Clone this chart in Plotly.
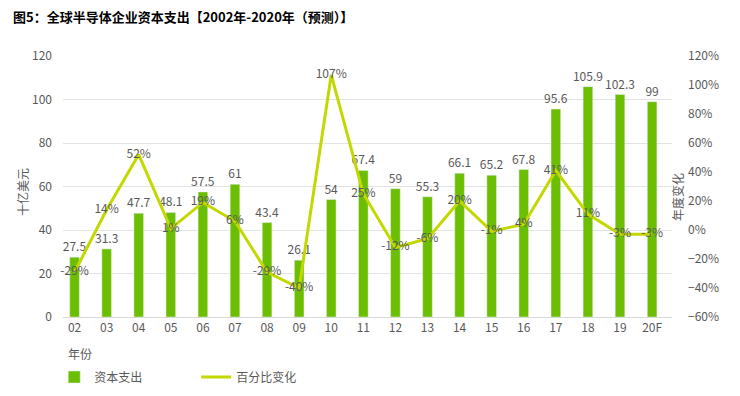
import plotly.graph_objects as go

years = ["02","03","04","05","06","07","08","09","10","11","12","13","14","15","16","17","18","19","20F"]
capex = [27.5,31.3,47.7,48.1,57.5,61,43.4,26.1,54,67.4,59,55.3,66.1,65.2,67.8,95.6,105.9,102.3,99]
pct_change = [-29,14,52,1,19,6,-29,-40,107,25,-12,-6,20,-1,4,41,11,-3,-3]

FONT = "Noto Sans CJK SC"
GRAY = "#595959"
BAR_C = "#6BBE00"
LINE_C = "#C3D800"

W, H = 732, 388  # page has 8px body margin

fig = go.Figure()
fig.add_trace(go.Bar(
    x=years, y=capex, name="资本支出", marker_color=BAR_C, width=0.3,
    text=[f"{v:g}" for v in capex], textposition="outside", constraintext="none",
    textfont=dict(color=GRAY, size=12, family=FONT), cliponaxis=False,
))
fig.add_trace(go.Scatter(
    x=years, y=pct_change, name="百分比变化", yaxis="y2", mode="lines+text",
    line=dict(color=LINE_C, width=3),
    text=[f"{v}%" for v in pct_change], textposition="middle center",
    textfont=dict(color=GRAY, size=12, family=FONT), cliponaxis=False,
))

fig.update_layout(
    width=W, height=H,
    margin=dict(l=55, r=68, t=48, b=79, autoexpand=False),
    paper_bgcolor="white", plot_bgcolor="white",
    font=dict(family=FONT, color=GRAY, size=12),
    title=dict(text="<b>图5：全球半导体企业资本支出【2002年-2020年（预测）】</b>",
               x=5/W, xref="container", xanchor="left",
               y=1 - 9/H, yref="container", yanchor="middle",
               font=dict(size=13, color="black", family=FONT)),
    xaxis=dict(type="category", range=[-0.36, 18.62], showgrid=False,
               showline=True, linecolor="#D9D9D9", linewidth=1, ticks="",
               tickfont=dict(size=12, color=GRAY)),
    yaxis=dict(range=[0, 120], dtick=20, showgrid=True, gridcolor="#E3E3E3",
               zeroline=False, tickfont=dict(size=12, color=GRAY),
               ticklabelstandoff=10),
    yaxis2=dict(range=[-60, 120], dtick=20, overlaying="y", side="right",
                showgrid=False, zeroline=False, ticksuffix="%",
                tickfont=dict(size=12, color=GRAY), ticklabelstandoff=15),
    showlegend=True,
    legend=dict(orientation="h", x=-0.0144, xanchor="left", y=-0.23, yanchor="middle",
                font=dict(size=12, color=GRAY), entrywidth=97, entrywidthmode="pixels",
                itemwidth=30),
    annotations=[
        dict(text="十亿美元", xref="paper", yref="paper", x=(22-63)/609, y=(317-192)/261,
             textangle=-90, xanchor="center", yanchor="middle", showarrow=False,
             font=dict(size=12, color=GRAY)),
        dict(text="年份", xref="paper", yref="paper", x=(80-63)/609, y=(317-353)/261,
             xanchor="center", yanchor="middle", showarrow=False,
             font=dict(size=12, color=GRAY)),
        dict(text="年度变化", xref="paper", yref="paper", x=(677-63)/609, y=(317-197)/261,
             textangle=-90, xanchor="center", yanchor="middle", showarrow=False,
             font=dict(size=12, color=GRAY)),
    ],
)

fig.write_html("out.html")
